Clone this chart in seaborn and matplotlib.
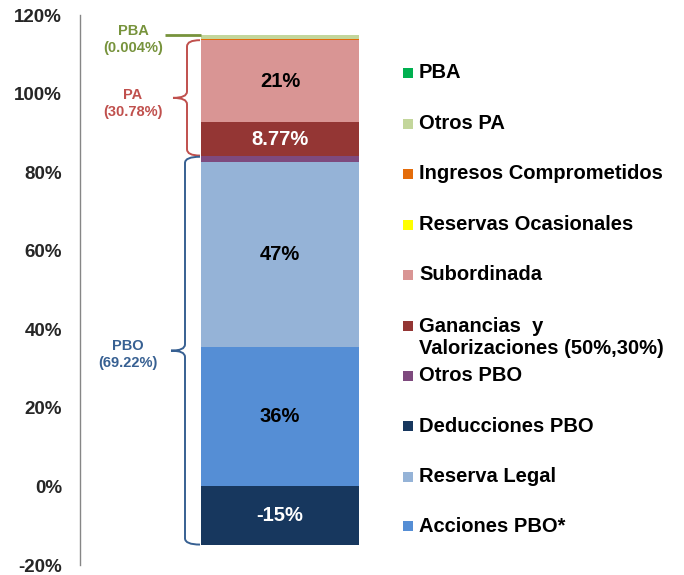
import matplotlib
matplotlib.use("Agg")
import matplotlib.pyplot as plt
from matplotlib.path import Path
from matplotlib.patches import PathPatch, Rectangle
import matplotlib.transforms as mtransforms
import seaborn as sns
import pandas as pd

# ---------------- data ----------------
legend_labels = ["PBA", "Otros PA", "Ingresos Comprometidos", "Reservas Ocasionales",
                 "Subordinada", "Ganancias  y\nValorizaciones (50%,30%)", "Otros PBO",
                 "Deducciones PBO", "Reserva Legal", "Acciones PBO*"]
values = [0.004, 0.86, 0.35, 0.0, 20.8, 8.77, 1.52, -14.8, 46.9, 35.6]
colors = ["#00B050", "#C3D69B", "#E46C0A", "#FFFF00", "#D99594", "#943634",
          "#7E4A7E", "#17375E", "#95B3D7", "#558ED5"]
stack_order = ["Acciones PBO*", "Reserva Legal", "Otros PBO",
               "Ganancias  y\nValorizaciones (50%,30%)", "Subordinada",
               "Reservas Ocasionales", "Ingresos Comprometidos", "Otros PA", "PBA"]
bar_text_series = ["Subordinada", "Ganancias  y\nValorizaciones (50%,30%)",
                   "Reserva Legal", "Acciones PBO*", "Deducciones PBO"]
bar_text_labels = ["21%", "8.77%", "47%", "36%", "-15%"]
bar_text_colors = ["black", "white", "black", "black", "white"]
group_names = ["PBA", "PA", "PBO"]
group_pcts = ["(0.004%)", "(30.78%)", "(69.22%)"]
group_colors = ["#77933C", "#C0504D", "#376092"]
yticks = [-20, 0, 20, 40, 60, 80, 100, 120]

sns.set_style("white")
plt.rcParams['font.family'] = ['Liberation Sans', 'DejaVu Sans']
plt.rcParams['font.weight'] = 'bold'

fig = plt.figure(figsize=(6.84, 5.75), dpi=100)
W, H = 684, 575
ax_left, ax_right, ax_top, ax_bot = 80, 380, 15, 565
ax = fig.add_axes([ax_left / W, 1 - ax_bot / H, (ax_right - ax_left) / W, (ax_bot - ax_top) / H])

val = dict(zip(legend_labels, values))
col = dict(zip(legend_labels, colors))
df = pd.DataFrame({"cat": ["A"] * len(legend_labels), "serie": legend_labels, "valor": values})

bottoms = {}
cum = 0.0
for s in stack_order:
    row = df[df.serie == s]
    sns.barplot(data=row, x="cat", y="valor", bottom=cum, color=col[s], saturation=1,
                width=0.6, errorbar=None, ax=ax, linewidth=0)
    bottoms[s] = cum
    cum += val[s]
top_total = cum
neg = df[df.serie == "Deducciones PBO"]
sns.barplot(data=neg, x="cat", y="valor", bottom=0, color=col["Deducciones PBO"], saturation=1,
            width=0.6, errorbar=None, ax=ax, linewidth=0)
bottoms["Deducciones PBO"] = 0.0

ax.set_xlim(-0.759, 0.380)
ax.set_ylim(-20, 120)
ax.set_yticks(yticks)
ax.set_yticklabels([f"{t}%" for t in yticks], fontsize=13.5, fontweight='bold')
ax.set_xticks([])
ax.set_xlabel("")
ax.set_ylabel("")
for sp in ["top", "right", "bottom"]:
    ax.spines[sp].set_visible(False)
ax.spines["left"].set_color("#868686")
ax.spines["left"].set_linewidth(1)
ax.tick_params(axis="y", direction="out", length=5, color="#868686", width=1, pad=8)

# bar labels
for s, lab, c in zip(bar_text_series, bar_text_labels, bar_text_colors):
    y = bottoms[s] + val[s] / 2
    ax.text(0, y, lab, ha="center", va="center", fontsize=14.5, fontweight="bold", color=c)

# braces
trans = mtransforms.blended_transform_factory(ax.transAxes, ax.transData)
def fx(px):
    return (px - ax_left) / (ax_right - ax_left)

def brace(y0, y1, xv, xr, xt, color, r=1.6):
    ym = (y0 + y1) / 2
    verts = [(xr, y1), (xv, y1), (xv, y1 - r),
             (xv, ym + r), (xv, ym), (xt, ym),
             (xv, ym), (xv, ym - r),
             (xv, y0 + r), (xv, y0), (xr, y0)]
    codes = [Path.MOVETO, Path.CURVE3, Path.CURVE3,
             Path.LINETO, Path.CURVE3, Path.CURVE3,
             Path.CURVE3, Path.CURVE3,
             Path.LINETO, Path.CURVE3, Path.CURVE3]
    ax.add_patch(PathPatch(Path(verts, codes), facecolor="none", edgecolor=color,
                           lw=1.4, transform=trans, clip_on=False))
    return ym

pbo_top = bottoms["Otros PBO"] + val["Otros PBO"]
pa_top = bottoms["Subordinada"] + val["Subordinada"]
ym_pa = brace(pbo_top + 0.2, pa_top, fx(187), fx(200), fx(173), group_colors[1])
ym_pbo = brace(val["Deducciones PBO"], pbo_top - 0.1, fx(185), fx(200), fx(171), group_colors[2])

# PBA leader line
ax.plot([fx(165), fx(201)], [top_total, top_total], color=group_colors[0], lw=2,
        transform=trans, clip_on=False, solid_capstyle="butt")

txt_kw = dict(transform=trans, ha="center", va="center", fontsize=10.5,
              fontweight="bold", linespacing=1.3)
ax.text(fx(133), top_total - 1.1, group_names[0] + "\n" + group_pcts[0],
        color=group_colors[0], **txt_kw)
ax.text(fx(133), ym_pa - 1.5, group_names[1] + "\n" + group_pcts[1],
        color=group_colors[1], **txt_kw)
ax.text(fx(128), ym_pbo - 1.0, group_names[2] + "\n" + group_pcts[2],
        color=group_colors[2], **txt_kw)

# legend (manual layout to match first-line alignment)
leg_y = [73, 123.5, 174, 224.5, 275, 326, 375.5, 426, 476.5, 526]
for lab, c, py in zip(legend_labels, colors, leg_y):
    fig.patches.append(Rectangle(((403) / W, 1 - (py + 5) / H), 10 / W, 10 / H,
                                 facecolor=c, edgecolor="none", transform=fig.transFigure))
    lines = lab.split("\n")
    for i, ln in enumerate(lines):
        fig.text(419 / W, 1 - (py + i * 22.5) / H, ln, ha="left", va="center",
                 fontsize=14.5, fontweight="bold", color="black")

fig.savefig("out.png", dpi=100)
